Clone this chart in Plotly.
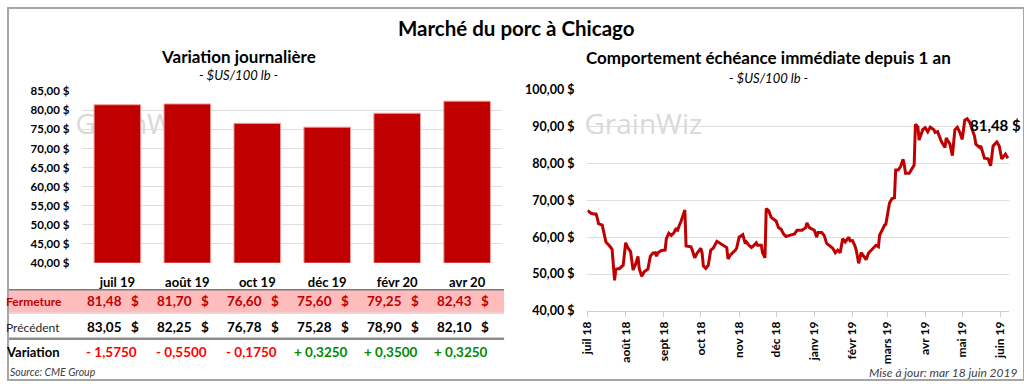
import plotly.graph_objects as go
from datetime import date, timedelta

# ---------------- data ----------------
main_title = "Marché du porc à Chicago"
left_title = "Variation journalière"
right_title = "Comportement échéance immédiate depuis 1 an"
unit_label = "- $US/100 lb -"

contracts = ["juil 19", "août 19", "oct 19", "déc 19", "févr 20", "avr 20"]
fermeture = [81.48, 81.70, 76.60, 75.60, 79.25, 82.43]
precedent = [83.05, 82.25, 76.78, 75.28, 78.90, 82.10]
variation = [-1.5750, -0.5500, -0.1750, 0.3250, 0.3500, 0.3250]

bar_ticks = [40, 45, 50, 55, 60, 65, 70, 75, 80, 85]
line_ticks = [40, 50, 60, 70, 80, 90, 100]

start_day = date(2018, 7, 1)
day_offsets = [0, 3, 5, 7, 8, 9, 12, 14, 15, 18, 20, 22, 23, 26, 29, 31, 33, 35, 37, 39,
               41, 42, 44, 46, 49, 51, 53, 55, 56, 57, 60, 63, 64, 66, 68, 70, 72, 73, 74, 76,
               78, 79, 80, 84, 85, 87, 89, 92, 93, 94, 96, 98, 100, 102, 105, 108, 112, 113, 114, 116,
               120, 121, 123, 126, 128, 129, 131, 133, 135, 137, 138, 141, 142, 144, 145, 147, 149, 152, 153, 155,
               157, 159, 161, 164, 168, 170, 174, 177, 178, 180, 182, 184, 186, 187, 190, 192, 194, 197, 199, 201,
               203, 205, 207, 209, 212, 213, 215, 217, 218, 220, 222, 225, 226, 228, 232, 234, 236, 237, 239, 241,
               242, 244, 245, 247, 249, 250, 252, 254, 256, 257, 258, 261, 263, 265, 266, 268, 269, 272, 274, 276,
               278, 281, 282, 284, 287, 290, 291, 294, 296, 298, 300, 302, 304, 306, 308, 310, 314, 315, 318, 319,
               321, 322, 325, 327, 329, 332, 334, 336, 338, 339, 341]
prices = [67.3, 66.5, 66.3, 66.3, 65.2, 63.7, 63.3, 60.5, 58.7, 57.6, 56.7, 48.3, 51.3, 51.5, 52.4, 58.5, 57.0, 56.1, 51.1, 52.6,
          54.8, 51.5, 49.4, 50.6, 51.3, 54.8, 55.7, 55.8, 54.8, 55.7, 56.4, 56.5, 59.6, 61.1, 60.5, 61.1, 62.5, 61.6, 62.8, 64.4,
          66.1, 67.4, 57.6, 57.4, 56.5, 54.4, 55.7, 57.0, 55.7, 52.2, 51.5, 52.4, 56.5, 57.0, 58.9, 58.3, 57.4, 57.2, 54.1, 55.2,
          56.5, 57.0, 60.0, 60.7, 58.3, 58.7, 57.8, 57.2, 57.8, 58.5, 57.8, 57.8, 55.8, 54.4, 67.8, 67.2, 65.4, 64.8, 64.4, 62.6,
          62.2, 60.9, 60.2, 60.5, 60.9, 61.9, 61.9, 62.6, 63.9, 62.6, 62.2, 61.9, 60.0, 61.3, 61.3, 60.5, 58.3, 57.6, 57.0, 55.8,
          56.5, 55.8, 59.6, 58.7, 60.0, 59.0, 59.1, 57.6, 56.5, 52.9, 55.8, 54.4, 53.9, 55.7, 57.1, 57.8, 57.4, 60.6, 61.9, 63.3,
          63.5, 67.4, 69.3, 70.5, 70.7, 78.3, 78.3, 79.2, 81.2, 79.6, 77.4, 77.4, 78.7, 79.6, 90.7, 90.0, 86.4, 89.3, 89.8, 88.7,
          89.9, 89.2, 88.5, 88.7, 86.1, 84.4, 87.0, 85.3, 82.2, 89.2, 89.9, 88.5, 86.6, 91.8, 92.2, 91.3, 87.4, 85.3, 84.4, 84.8,
          82.6, 81.5, 81.3, 79.4, 84.8, 85.9, 84.8, 81.3, 82.2, 82.6, 81.48]

month_ticks = ["2018-07-01", "2018-08-01", "2018-09-01", "2018-10-01", "2018-11-01", "2018-12-01",
               "2019-01-01", "2019-02-01", "2019-03-01", "2019-04-01", "2019-05-01", "2019-06-01"]
month_labels = ["juil 18", "août 18", "sept 18", "oct 18", "nov 18", "déc 18",
                "janv 19", "févr 19", "mars 19", "avr 19", "mai 19", "juin 19"]

source_text = "Source: CME Group"
update_text = "Mise à jour: mar 18 juin 2019"
watermark = "GrainWiz"

# ---------------- helpers ----------------
FONT = "Lato"
W, H = 1024, 387
RED = "#C00000"


def fr(v, d=2):
    return f"{v:.{d}f}".replace(".", ",")


def money(v):
    return fr(v) + " $"


def py(px):  # pixel row -> paper y
    return 1 - px / H


dates = [start_day + timedelta(days=d) for d in day_offsets]

fig = go.Figure()

# watermark layer (drawn first, underneath the bars)
fig.add_trace(go.Scatter(x=[68, 581], y=[124, 124], mode="text", text=[watermark, watermark],
                         textposition="middle right", cliponaxis=False, hoverinfo="skip",
                         textfont=dict(family="Open Sans", size=28, color="#d9d9d9"),
                         xaxis="x", yaxis="y", showlegend=False))

# bars
fig.add_trace(go.Bar(x=contracts, y=fermeture, marker=dict(color=RED, line=dict(color="#f2a0a0", width=1)),
                     xaxis="x2", yaxis="y2", showlegend=False))

# line
fig.add_trace(go.Scatter(x=dates, y=prices, mode="lines", line=dict(color=RED, width=3),
                         xaxis="x3", yaxis="y3", showlegend=False))

grid = "#dedede"
fig.update_layout(
    width=W, height=H, margin=dict(l=0, r=0, t=0, b=0),
    paper_bgcolor="white", plot_bgcolor="rgba(0,0,0,0)",
    font=dict(family=FONT, color="black"),
    bargap=0.333,
    xaxis=dict(domain=[0, 1], range=[0, W], visible=False, fixedrange=True),
    yaxis=dict(domain=[0, 1], range=[H, 0], visible=False, fixedrange=True),
    xaxis2=dict(domain=[75 / W, 498 / W], anchor="y2", type="category", showgrid=False,
                showline=False, ticks="", ticklabelstandoff=10,
                tickfont=dict(family=FONT, size=13, weight="bold", color="black")),
    yaxis2=dict(domain=[py(265), py(86.7)], anchor="x2", range=[40, 85],
                tickvals=bar_ticks, ticktext=[money(v) for v in bar_ticks],
                showgrid=True, gridcolor=grid, gridwidth=1, zeroline=False, showline=False,
                ticks="", ticklabelstandoff=12,
                tickfont=dict(family=FONT, size=11.5, weight="bold", color="black")),
    xaxis3=dict(domain=[584 / W, 1009 / W], anchor="y3", type="date",
                range=["2018-07-01", "2019-06-08"], tickvals=month_ticks, ticktext=month_labels,
                tickangle=-90, ticks="outside", ticklen=5, tickcolor="#d0d0d0",
                showline=True, linecolor="#d0d0d0", showgrid=False,
                tickfont=dict(family=FONT, size=12, weight="bold", color="black")),
    yaxis3=dict(domain=[py(315), py(85.4)], anchor="x3", range=[40, 100],
                tickvals=line_ticks, ticktext=[money(v) for v in line_ticks],
                showgrid=True, gridcolor=grid, gridwidth=1, zeroline=False, showline=False,
                ticks="", ticklabelstandoff=12,
                tickfont=dict(family=FONT, size=12.5, weight="bold", color="black")),
)

ann = []


def text(x, y, s, size=12, color="black", bold=False, italic=False, xanchor="center", xref="paper", xshift=0):
    ann.append(dict(x=x, y=y, xref=xref, yref="paper", text=s, showarrow=False, xanchor=xanchor,
                    yanchor="middle", xshift=xshift,
                    font=dict(family=FONT, size=size, color=color, weight="bold" if bold else "normal",
                              style="italic" if italic else "normal")))


text(0.5, py(21), main_title, size=20.5, bold=True)
text(232 / W, py(50), left_title, size=17, bold=True)
text(232 / W, py(70), unit_label, size=13, italic=True)
text(766 / W, py(52), right_title, size=17, bold=True)
text(766 / W, py(73), unit_label, size=13, italic=True)

# table rows
text(1 / W, py(305), "Fermeture", size=12, color=RED, bold=True, xanchor="left", xshift=-5)
text(1 / W, py(332), "Précédent", size=12, color="#262626", xanchor="left", xshift=-5)
text(1 / W, py(358), "Variation", size=13, bold=True, xanchor="left", xshift=-5)
for c, f, p, v in zip(contracts, fermeture, precedent, variation):
    text(c, py(305), fr(f), size=13.5, color=RED, bold=True, xanchor="right", xref="x2", xshift=7)
    text(c, py(305), "$", size=13.5, color=RED, bold=True, xanchor="right", xref="x2", xshift=24)
    text(c, py(332), fr(p), size=13.5, bold=True, xanchor="right", xref="x2", xshift=7)
    text(c, py(332), "$", size=13.5, bold=True, xanchor="right", xref="x2", xshift=24)
    sign = "- " if v < 0 else "+ "
    col = "#ff0000" if v < 0 else "#008a00"
    text(c, py(358), sign + fr(abs(v), 4), size=13.5, color=col, bold=True, xref="x2", xshift=-6)

text(3 / W, py(379), source_text, size=10.5, color="#404040", italic=True, xanchor="left", xshift=-3)
text(1019 / W, py(379), update_text, size=12, color="#404040", italic=True, xanchor="right")

# last value label
ann.append(dict(x=dates[-1], y=prices[-1], xref="x3", yref="y3", text=money(prices[-1]), showarrow=False,
                xanchor="center", yanchor="middle", xshift=-12, yshift=33,
                font=dict(family=FONT, size=15, weight="bold", color="black")))

fig.update_layout(annotations=ann)

shapes = [
    dict(type="rect", xref="paper", yref="paper", x0=0, x1=500 / W, y0=py(317), y1=py(293),
         fillcolor="#ffbcbc", line=dict(width=0), layer="below"),
    dict(type="line", xref="paper", yref="paper", x0=0, x1=500 / W, y0=py(293), y1=py(293),
         line=dict(color="#7a7a7a", width=1.5)),
    dict(type="line", xref="paper", yref="paper", x0=0, x1=500 / W, y0=py(317.5), y1=py(317.5),
         line=dict(color="#d0d0d0", width=1)),
    dict(type="line", xref="paper", yref="paper", x0=0, x1=500 / W, y0=py(344), y1=py(344),
         line=dict(color="#8c8c8c", width=2.5)),
    dict(type="rect", xref="paper", yref="paper", x0=0, x1=1, y0=0, y1=1,
         line=dict(color="#a6a6a6", width=2), fillcolor="rgba(0,0,0,0)"),
]
fig.update_layout(shapes=shapes)

fig.write_html("out.html", config={"displayModeBar": False},
               post_script="document.body.style.margin='0';document.body.style.overflow='hidden';")
